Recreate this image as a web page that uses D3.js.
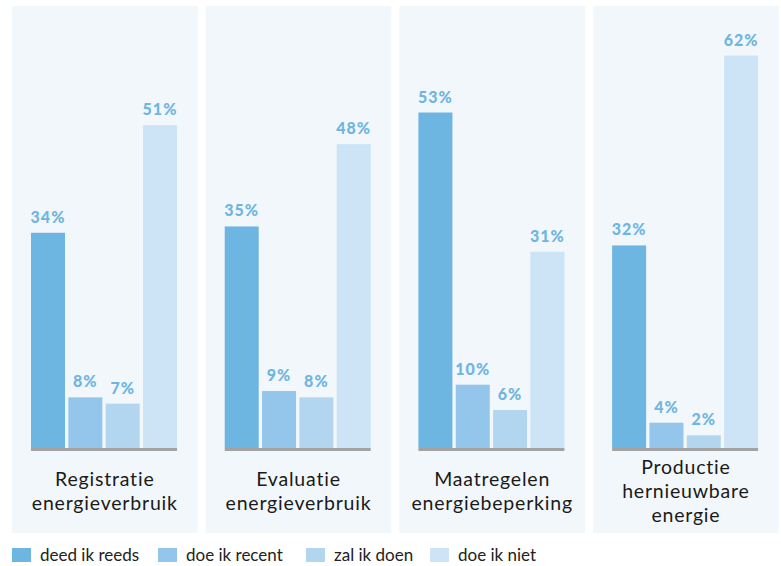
<!DOCTYPE html>
<html>
<head>
<meta charset="utf-8">
<script src="https://cdn.jsdelivr.net/npm/d3@7"></script>
<style>
  body { margin: 0; background: #fff; }
  svg { display: block; font-family: Lato, "Open Sans", sans-serif; }
</style>
</head>
<body>
<svg id="chart" width="781" height="566"></svg>
<script>
// data
var categories = [
  ["Registratie", "energieverbruik"],
  ["Evaluatie", "energieverbruik"],
  ["Maatregelen", "energiebeperking"],
  ["Productie", "hernieuwbare", "energie"]
];
var series = ["deed ik reeds", "doe ik recent", "zal ik doen", "doe ik niet"];
var deedIkReeds = [34, 35, 53, 32];
var doeIkRecent = [8, 9, 10, 4];
var zalIkDoen = [7, 8, 6, 2];
var doeIkNiet = [51, 48, 31, 62];

var values = [deedIkReeds, doeIkRecent, zalIkDoen, doeIkNiet];
var colors = ["#6db6e2", "#94c6eb", "#b3d6f0", "#cde3f6"];

var svg = d3.select("#chart");

var panelX = d3.scaleBand()
  .domain(d3.range(categories.length))
  .range([12, 778.7])
  .paddingInner(0.042);

var barX = d3.scaleBand()
  .domain(series)
  .range([19, 165])
  .paddingInner(0.089);

var y = d3.scaleLinear().domain([0, 100]).range([448, -185]);

var color = d3.scaleOrdinal().domain(series).range(colors);

var panels = svg.selectAll("g.panel")
  .data(categories)
  .enter()
  .append("g")
  .classed("panel", true)
  .attr("transform", (d, i) => "translate(" + panelX(i) + ",0)");

panels.append("rect")
  .attr("x", 0)
  .attr("y", 6)
  .attr("width", panelX.bandwidth())
  .attr("height", 527)
  .style("fill", "#f2f7fc");

panels.each(function(cat, i) {
  var g = d3.select(this);
  var rows = series.map((s, j) => ({ s: s, v: values[j][i] }));

  g.selectAll("rect.bar")
    .data(rows)
    .enter()
    .append("rect")
    .classed("bar", true)
    .attr("x", d => barX(d.s))
    .attr("y", d => y(d.v))
    .attr("width", barX.bandwidth())
    .attr("height", d => y(0) - y(d.v))
    .style("fill", d => color(d.s));

  g.selectAll("text.val")
    .data(rows)
    .enter()
    .append("text")
    .classed("val", true)
    .attr("x", d => barX(d.s) + barX.bandwidth() / 2)
    .attr("y", d => y(d.v) - 10)
    .attr("text-anchor", "middle")
    .style("font-size", "16px")
    .style("font-weight", "900")
    .style("letter-spacing", "1px")
    .style("fill", "#6fb5e1")
    .text(d => d.v + "%");

  // base line
  g.append("rect")
    .attr("x", barX.range()[0])
    .attr("y", y(0))
    .attr("width", barX.range()[1] - barX.range()[0])
    .attr("height", 3)
    .style("fill", "#a3a3a3");

  var lineH = 24;
  var first = 498 - (cat.length - 1) * lineH / 2;
  g.selectAll("text.cat")
    .data(cat)
    .enter()
    .append("text")
    .classed("cat", true)
    .attr("x", panelX.bandwidth() / 2)
    .attr("y", (d, k) => first + k * lineH)
    .attr("text-anchor", "middle")
    .style("font-size", "19.5px")
    .style("letter-spacing", "0.8px")
    .style("fill", "#1a1a1a")
    .text(d => d);
});

// legend
var legendX = [12, 158, 306, 430];
var legend = svg.selectAll("g.legend")
  .data(series)
  .enter()
  .append("g")
  .classed("legend", true)
  .attr("transform", (d, i) => "translate(" + legendX[i] + ",548)");

legend.append("rect")
  .attr("width", 19)
  .attr("height", 14)
  .style("fill", d => color(d));

legend.append("text")
  .attr("x", 28)
  .attr("y", 13)
  .style("font-size", "17px")
  .style("fill", "#222")
  .text(d => d);
</script>
</body>
</html>
